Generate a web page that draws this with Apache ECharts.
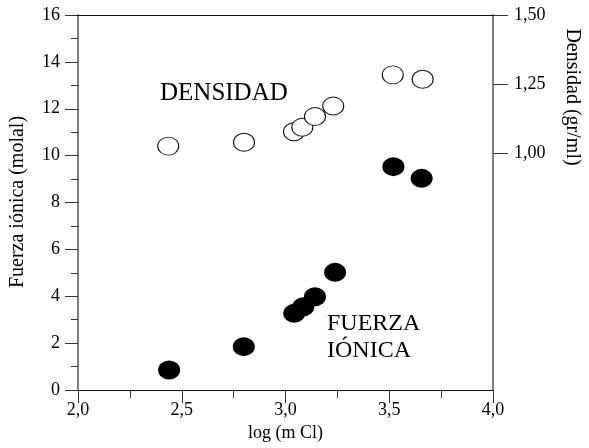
<!DOCTYPE html>
<html>
<head>
<meta charset="utf-8">
<script src="https://cdn.jsdelivr.net/npm/echarts@6/dist/echarts.min.js"></script>
<style>html,body{margin:0;padding:0;background:#fff;}#c{width:589px;height:448px;}</style>
</head>
<body>
<div id="c"></div>
<script>
// log (m Cl) values
var logMCl = [2.439, 2.799, 3.042, 3.086, 3.142, 3.239, 3.520, 3.656];
// Fuerza iónica (molal)
var fuerzaIonica = [0.85, 1.85, 3.27, 3.55, 3.98, 5.02, 9.53, 9.03];
// log (m Cl) for density points
var logMClDens = [2.435, 2.800, 3.041, 3.081, 3.142, 3.230, 3.517, 3.661];
// Densidad (gr/ml)
var densidad = [1.025, 1.039, 1.077, 1.093, 1.132, 1.170, 1.283, 1.267];
// right axis labelled ticks
var densTicks = [1.00, 1.25, 1.50];

var FONT = 'Liberation Serif';
var chart = echarts.init(document.getElementById('c'));

function pairs(xs, ys) { return xs.map(function (x, i) { return [x, ys[i]]; }); }
function comma(v, d) { return v.toFixed(d).replace('.', ','); }

chart.setOption({
  animation: false,
  backgroundColor: '#fff',
  grid: { left: 78, right: 96, top: 15, bottom: 58 },
  xAxis: [{
    type: 'value', min: 2, max: 4, interval: 0.5,
    name: 'log (m Cl)', nameLocation: 'middle', nameGap: 21,
    nameTextStyle: { fontFamily: FONT, fontSize: 18, color: '#000' },
    axisLine: { show: true, lineStyle: { color: '#111', width: 1 } },
    axisTick: { show: true, inside: false, length: 13, lineStyle: { color: '#333', width: 1 } },
    minorTick: { show: true, splitNumber: 2, length: 8, lineStyle: { color: '#333', width: 1 } },
    axisLabel: { margin: 11, fontFamily: FONT, fontSize: 18, color: '#000', formatter: function (v) { return comma(v, 1); } },
    splitLine: { show: false }
  }, {
    type: 'value', min: 2, max: 4, position: 'top',
    axisLine: { show: true, lineStyle: { color: '#111', width: 1 } },
    axisTick: { show: false }, axisLabel: { show: false }, splitLine: { show: false }
  }],
  yAxis: [{
    type: 'value', min: 0, max: 16, interval: 2, position: 'left',
    axisLine: { show: true, lineStyle: { color: '#808080', width: 2 } },
    axisTick: { show: true, inside: false, length: 13, lineStyle: { color: '#333', width: 1 } },
    minorTick: { show: true, splitNumber: 2, length: 7, lineStyle: { color: '#333', width: 1 } },
    axisLabel: { margin: 18, fontFamily: FONT, fontSize: 18, color: '#000' },
    splitLine: { show: false }
  }, {
    type: 'value', min: 0.1413, max: 1.5, position: 'right',
    axisLine: { show: true, lineStyle: { color: '#808080', width: 2 } },
    axisTick: { show: true, inside: false, length: 15, customValues: densTicks, lineStyle: { color: '#333', width: 1 } },
    axisLabel: { margin: 21, fontFamily: FONT, fontSize: 18, color: '#000', customValues: densTicks,
      formatter: function (v) { return comma(v, 2); } },
    splitLine: { show: false }
  }],
  graphic: [
    { type: 'text', x: 18, y: 202, rotation: Math.PI / 2,
      style: { text: 'Fuerza iónica (molal)', font: '20px "' + FONT + '"', fill: '#000', align: 'center', verticalAlign: 'middle' } },
    { type: 'text', x: 572, y: 97, rotation: -Math.PI / 2,
      style: { text: 'Densidad (gr/ml)', font: '20px "' + FONT + '"', fill: '#000', align: 'center', verticalAlign: 'middle' } },
    { type: 'text', x: 160, y: 93,
      style: { text: 'DENSIDAD', font: '25px "' + FONT + '"', fill: '#000', align: 'left', verticalAlign: 'middle' } },
    { type: 'text', x: 327, y: 324,
      style: { text: 'FUERZA', font: '24px "' + FONT + '"', fill: '#000', align: 'left', verticalAlign: 'middle' } },
    { type: 'text', x: 327, y: 351,
      style: { text: 'IÓNICA', font: '24px "' + FONT + '"', fill: '#000', align: 'left', verticalAlign: 'middle' } }
  ],
  series: [{
    name: 'Fuerza iónica', type: 'scatter', xAxisIndex: 0, yAxisIndex: 0,
    symbol: 'circle', symbolSize: [22, 19],
    itemStyle: { color: '#000', opacity: 1 },
    data: pairs(logMCl, fuerzaIonica)
  }, {
    name: 'Densidad', type: 'scatter', xAxisIndex: 0, yAxisIndex: 1,
    symbol: 'circle', symbolSize: [21, 18],
    itemStyle: { color: '#fff', borderColor: '#111', borderWidth: 1, opacity: 1 },
    data: pairs(logMClDens, densidad)
  }]
});
</script>
</body>
</html>
